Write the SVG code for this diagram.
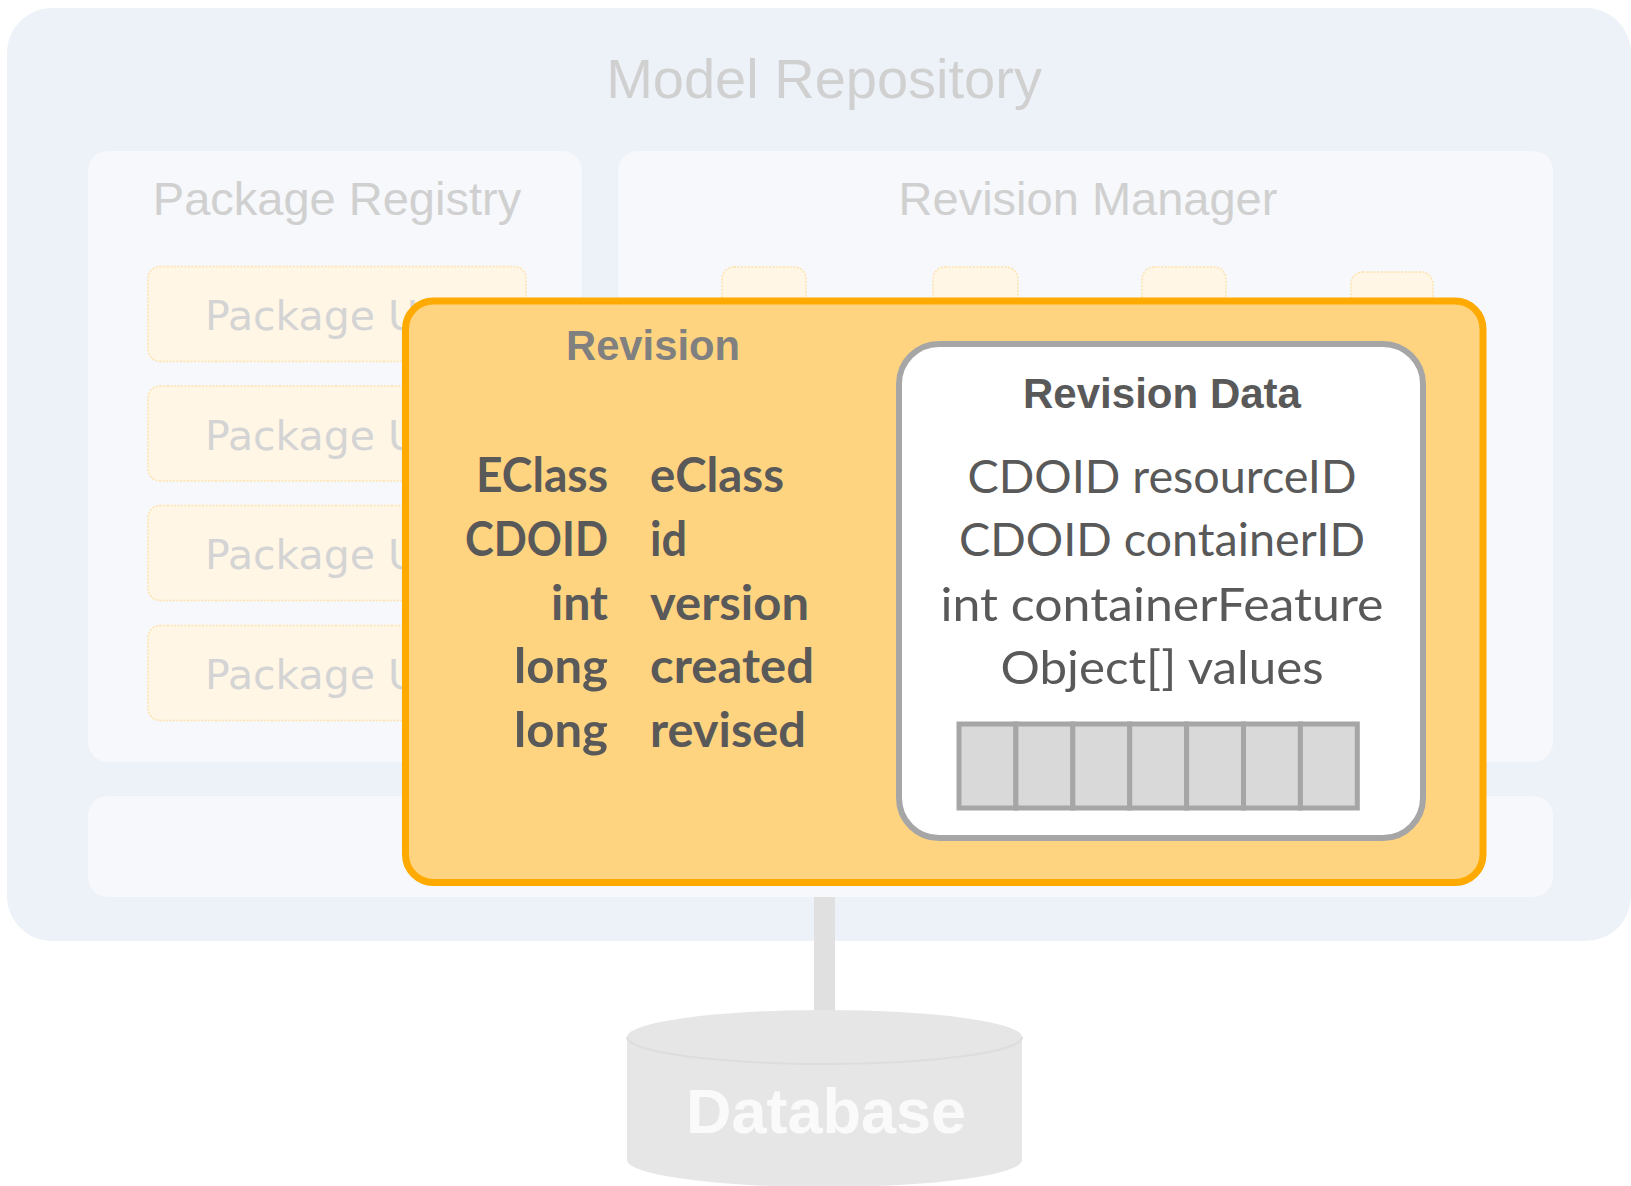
<svg xmlns="http://www.w3.org/2000/svg" width="1631" height="1186" viewBox="0 0 1631 1186">
  <style>
    .faded-title { font-family: "Liberation Sans", Arial, sans-serif; fill: #D0D0D0; }
    .pkg-text { font-family: "DejaVu Sans", Verdana, sans-serif; font-size: 41px; fill: #D4D4D4; }
    .inner-box { fill: #F6F8FB; }
    .pkg-box { fill: #FFF6E6; stroke: #FFE2AA; stroke-width: 1.5; stroke-dasharray: 2 1.5; }
    .head { font-family: "Liberation Sans", Arial, sans-serif; font-weight: bold; font-size: 42px; }
    .field-b { font-family: Lato, "Open Sans", sans-serif; font-weight: bold; font-size: 47px; fill: #595959; }
    .field-r { font-family: Lato, "Open Sans", sans-serif; font-size: 47px; fill: #595959; }
    .cell { fill: #D9D9D9; stroke: #A6A6A6; stroke-width: 5; }
  </style>

  <g id="model-repository">
    <rect x="7" y="8" width="1624" height="933" rx="45" fill="#EDF2F9"/>
    <text class="faded-title" x="824" y="98" font-size="56" text-anchor="middle">Model Repository</text>
  </g>

  <g id="package-registry">
    <rect class="inner-box" x="88" y="151" width="494" height="611" rx="20"/>
    <text class="faded-title" x="337" y="215" font-size="47" text-anchor="middle">Package Registry</text>
    <g id="package-unit-1">
      <rect class="pkg-box" x="148" y="266.5" width="378" height="95" rx="12"/>
      <text class="pkg-text" x="205" y="330">Package U</text>
    </g>
    <g id="package-unit-2">
      <rect class="pkg-box" x="148" y="386" width="378" height="95" rx="12"/>
      <text class="pkg-text" x="205" y="449.5">Package U</text>
    </g>
    <g id="package-unit-3">
      <rect class="pkg-box" x="148" y="505.5" width="378" height="95" rx="12"/>
      <text class="pkg-text" x="205" y="569">Package U</text>
    </g>
    <g id="package-unit-4">
      <rect class="pkg-box" x="148" y="625.5" width="378" height="95" rx="12"/>
      <text class="pkg-text" x="205" y="689">Package U</text>
    </g>
  </g>

  <g id="revision-manager">
    <rect class="inner-box" x="618" y="151" width="935" height="611" rx="20"/>
    <text class="faded-title" x="1088" y="215" font-size="47" text-anchor="middle">Revision Manager</text>
    <rect class="pkg-box" x="722" y="267" width="84" height="80" rx="12"/>
    <rect class="pkg-box" x="933" y="267" width="85" height="80" rx="12"/>
    <rect class="pkg-box" x="1142" y="267" width="84" height="80" rx="12"/>
    <rect class="pkg-box" x="1351" y="272" width="82" height="80" rx="12"/>
  </g>

  <g id="repository-store">
    <rect class="inner-box" x="88" y="796" width="1465" height="101" rx="20"/>
  </g>

  <g id="connectors">
    <line x1="824.5" y1="897" x2="824.5" y2="1014" stroke="#E0E0E0" stroke-width="21"/>
  </g>

  <g id="database">
    <path d="M627 1037 A197.5 27 0 0 1 1022 1037 L1022 1160 A197.5 27 0 0 1 627 1160 Z" fill="#E6E6E6"/>
    <path d="M627 1037 A197.5 27 0 0 0 1022 1037" fill="none" stroke="#DDDDDD" stroke-width="2"/>
    <text x="826" y="1133" font-family="Liberation Sans, Arial, sans-serif" font-weight="bold" font-size="63" fill="#FAFAFA" text-anchor="middle">Database</text>
  </g>

  <g id="revision">
    <rect x="405.5" y="301" width="1077.5" height="581.5" rx="28" fill="#FFD480" stroke="#FFAA00" stroke-width="7"/>
    <text class="head" x="653" y="360" fill="#808080" text-anchor="middle" textLength="174" lengthAdjust="spacingAndGlyphs">Revision</text>
    <text class="field-b" x="608" y="492" text-anchor="end" textLength="132" lengthAdjust="spacingAndGlyphs">EClass</text>
    <text class="field-b" x="608" y="556" text-anchor="end" textLength="143" lengthAdjust="spacingAndGlyphs">CDOID</text>
    <text class="field-b" x="608" y="620" text-anchor="end" textLength="57" lengthAdjust="spacingAndGlyphs">int</text>
    <text class="field-b" x="608" y="683" text-anchor="end" textLength="94" lengthAdjust="spacingAndGlyphs">long</text>
    <text class="field-b" x="608" y="747" text-anchor="end" textLength="94" lengthAdjust="spacingAndGlyphs">long</text>
    <text class="field-b" x="650" y="492" textLength="134" lengthAdjust="spacingAndGlyphs">eClass</text>
    <text class="field-b" x="650" y="556" textLength="37" lengthAdjust="spacingAndGlyphs">id</text>
    <text class="field-b" x="650" y="620" textLength="159" lengthAdjust="spacingAndGlyphs">version</text>
    <text class="field-b" x="650" y="683" textLength="164" lengthAdjust="spacingAndGlyphs">created</text>
    <text class="field-b" x="650" y="747" textLength="156" lengthAdjust="spacingAndGlyphs">revised</text>
  </g>

  <g id="revision-data">
    <rect x="899" y="344" width="524" height="494" rx="40" fill="#FFFFFF" stroke="#A6A6A6" stroke-width="6"/>
    <text class="head" x="1162" y="408" fill="#595959" text-anchor="middle" textLength="278" lengthAdjust="spacingAndGlyphs">Revision Data</text>
    <text class="field-r" x="1162" y="493" text-anchor="middle" textLength="389" lengthAdjust="spacingAndGlyphs">CDOID resourceID</text>
    <text class="field-r" x="1162" y="556" text-anchor="middle" textLength="406" lengthAdjust="spacingAndGlyphs">CDOID containerID</text>
    <text class="field-r" x="1162" y="621" text-anchor="middle" textLength="443" lengthAdjust="spacingAndGlyphs">int containerFeature</text>
    <text class="field-r" x="1162" y="684" text-anchor="middle" textLength="323" lengthAdjust="spacingAndGlyphs">Object[] values</text>
    <g id="values-array">
      <rect class="cell" x="959" y="724" width="56.9" height="84"/>
      <rect class="cell" x="1015.9" y="724" width="56.9" height="84"/>
      <rect class="cell" x="1072.8" y="724" width="56.9" height="84"/>
      <rect class="cell" x="1129.7" y="724" width="56.9" height="84"/>
      <rect class="cell" x="1186.6" y="724" width="56.9" height="84"/>
      <rect class="cell" x="1243.5" y="724" width="56.9" height="84"/>
      <rect class="cell" x="1300.4" y="724" width="56.9" height="84"/>
    </g>
  </g>
</svg>
